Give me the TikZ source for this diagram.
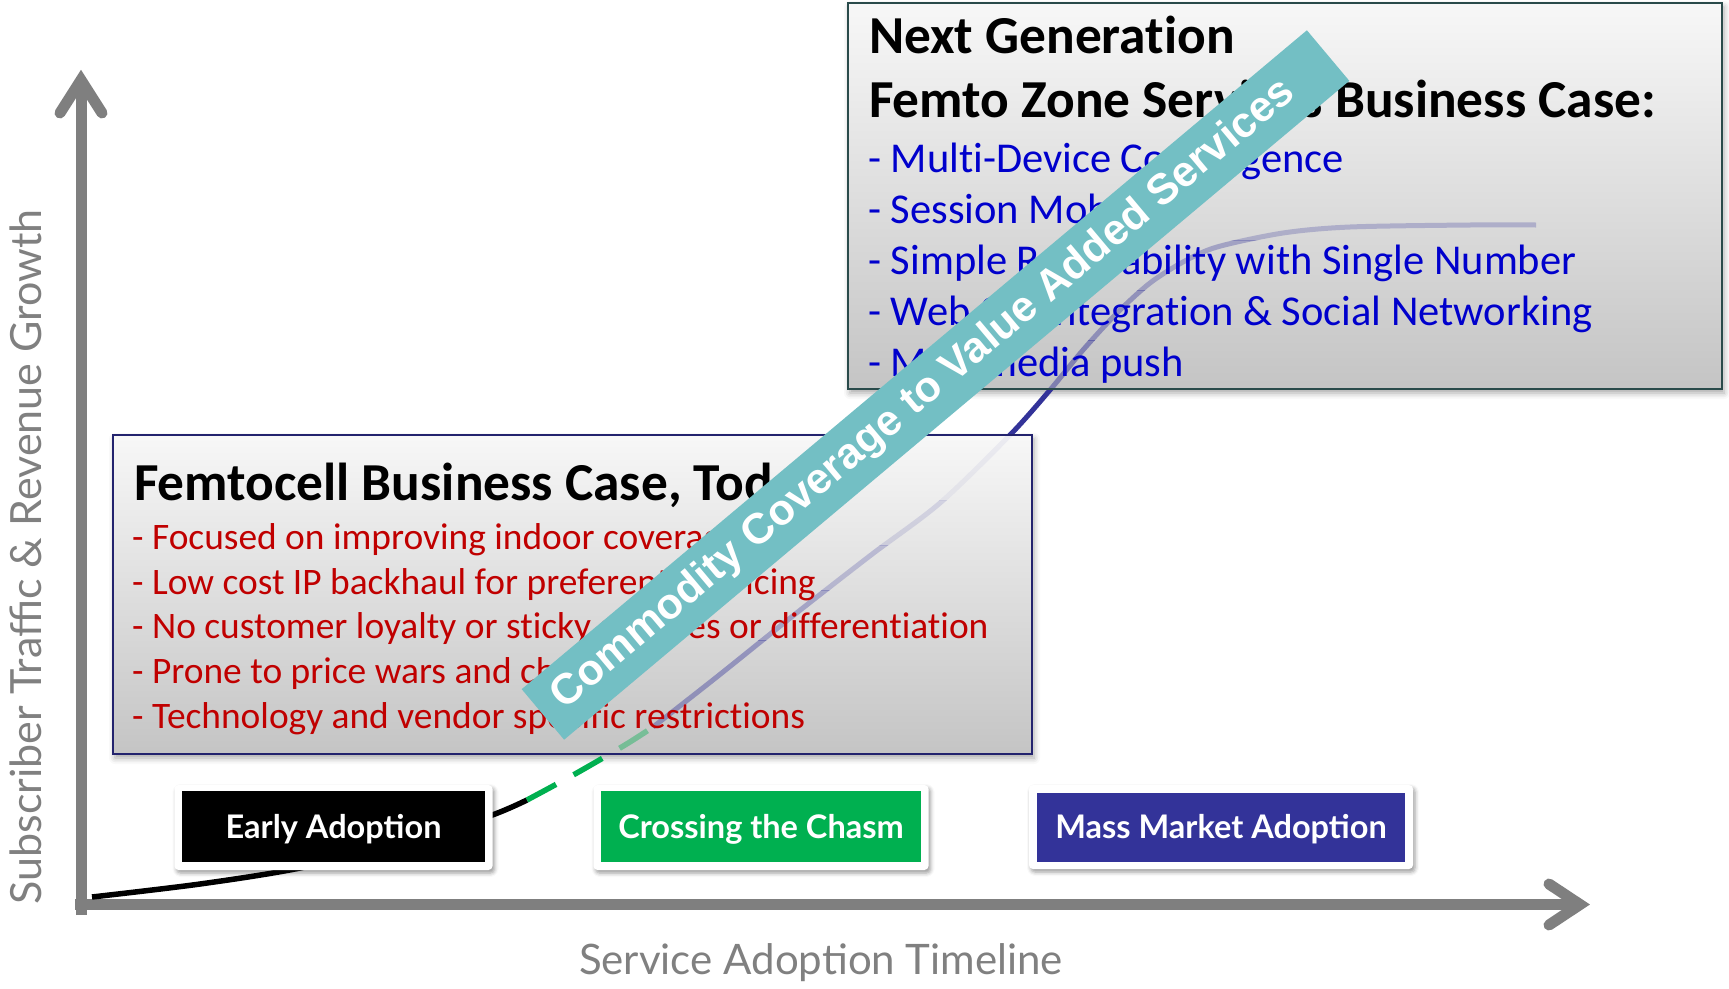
\documentclass[tikz,border=0pt]{standalone}
\usepackage{fontspec}
\setmainfont{Carlito}[Ligatures=NoCommon]
\newfontfamily\arialf{Liberation Sans}
\newfontfamily\latof{Lato}
\usetikzlibrary{shadows.blur}
\definecolor{axisgray}{HTML}{7F7F7F}
\definecolor{labgray}{HTML}{808080}
\definecolor{redtxt}{HTML}{C00000}
\definecolor{bluetxt}{HTML}{0000CC}
\definecolor{navyline}{HTML}{23236E}
\definecolor{slateline}{HTML}{2A4B4B}
\definecolor{teal}{HTML}{73BFC4}
\definecolor{chasm}{HTML}{00B050}
\definecolor{massblue}{HTML}{333399}
\begin{document}
\begin{tikzpicture}[x=1pt,y=-1pt,
  axisline/.style={draw=axisgray, line width=11pt},
  axishead/.style={draw=axisgray, line width=11pt, line cap=round, line join=miter},
  boxshadow/.style={fill=white, blur shadow={shadow xshift=2pt, shadow yshift=-4pt, shadow blur radius=6pt, shadow opacity=35}},
  boxshade/.style={top color=white!97!black, bottom color=black!23},
  titlefont/.style={anchor=base west, inner sep=0pt, font=\fontsize{53.4}{60}\selectfont\bfseries, text=black},
  redline/.style={anchor=base west, inner sep=0pt, font=\fontsize{37.4}{44}\selectfont, text=redtxt},
  blueline/.style={anchor=base west, inner sep=0pt, font=\fontsize{42.5}{50}\selectfont, text=bluetxt},
  phaseouter/.style={fill=white, rounded corners=4pt, inner sep=0pt, blur shadow={shadow xshift=2pt, shadow yshift=-3pt, shadow blur radius=4pt, shadow opacity=40}},
  phaseinner/.style={inner sep=0pt, text=white, text height=23pt, text depth=0pt, font=\latof\fontsize{32.5}{38}\selectfont\bfseries},
  axlabel/.style={inner sep=0pt, text=labgray},
  banner/.style={fill=teal, inner sep=0pt, minimum width=1025pt, minimum height=66pt, text=white, font=\arialf\fontsize{43}{50}\selectfont\bfseries},
  curveblack/.style={draw=black, line width=5.5pt},
  curvegreen/.style={draw=chasm, line width=5.5pt, dash pattern=on 33pt off 20pt},
  curveblue/.style={draw=massblue, line width=5pt}
]
\useasboundingbox (0,0) rectangle (1729,988);

% axes
\coordinate (yb) at (81,915);
\coordinate (yt) at (81,80);
\coordinate (yh1) at (60,113);
\coordinate (yh2) at (102,113);
\coordinate (xl) at (75,904.5);
\coordinate (xr) at (1580,904.5);
\coordinate (xh1) at (1549,884);
\coordinate (xh2) at (1549,925);
\draw[axisline] (yb) -- (yt);
\draw[axishead] (yh1) -- (yt) -- (yh2);
\draw[axisline] (xl) -- (xr);
\draw[axishead] (xh1) -- (xr) -- (xh2);

% box corners and shadows
\coordinate (lbA) at (113,435);
\coordinate (lbB) at (1032,754);
\coordinate (ubA) at (848,3);
\coordinate (ubB) at (1722,389);
\path[boxshadow] (lbA) rectangle (lbB);
\path[boxshadow] (ubA) rectangle (ubB);

% adoption curve
\def\blackcurve{plot[smooth] coordinates {(92,897) (200,884) (300,868) (420,840) (495,814) (527,800)}}
\def\greencurve{plot[smooth] coordinates {(527,800) (575,774) (625,745) (653,727)}}
\def\bluecurve{plot[smooth] coordinates {(653,727) (718,676) (794,615) (871,555) (940,503) (1010,435) (1050,390) (1083,350) (1117,313) (1150,283) (1183,262) (1217,247) (1283,233) (1350,227) (1470,225) (1536,225)}}
\draw[curveblack] \blackcurve;
\draw[curvegreen] \greencurve;
\draw[curveblue] \bluecurve;

% boxes (opaque), then the curve seen faintly through them
\fill[boxshade] (lbA) rectangle (lbB);
\fill[boxshade] (ubA) rectangle (ubB);
\foreach \ya/\yb/\op in {435/500/0.06, 500/545/0.14, 545/590/0.24, 590/640/0.33, 640/754/0.4} {
  \begin{scope}
    \clip (113,\ya) rectangle (1032,\yb);
    \draw[curvegreen, draw opacity=\op] \greencurve;
    \draw[curveblue, draw opacity=\op] \bluecurve;
  \end{scope}
}
\foreach \ya/\yb/\op in {3/240/0.26, 240/290/0.32, 290/340/0.4, 340/389/0.48} {
  \begin{scope}
    \clip (848,\ya) rectangle (1722,\yb);
    \draw[curveblue, draw opacity=\op] \bluecurve;
  \end{scope}
}
\draw[draw=navyline, line width=2pt] (lbA) rectangle (lbB);
\draw[draw=slateline, line width=2pt] (ubA) rectangle (ubB);

% lower box text
\node[titlefont] (lt) at (134,500) {Femtocell Business Case, Today};
\node[redline] (l1) at (132,549) {- Focused on improving indoor coverage};
\node[redline] (l2) at (132,594) {- Low cost IP backhaul for preferential pricing};
\node[redline] (l3) at (132,638) {- No customer loyalty or sticky services or differentiation};
\node[redline] (l4) at (132,683) {- Prone to price wars and churn};
\node[redline] (l5) at (132,728) {- Technology and vendor specific restrictions};

% upper box text
\node[titlefont] (ut1) at (869,53) {Next Generation};
\node[titlefont] (ut2) at (869,117) {Femto Zone Services Business Case:};
\node[blueline] (u1) at (868,172) {- Multi-Device Convergence};
\node[blueline] (u2) at (868,223) {- Session Mobility};
\node[blueline] (u3) at (868,274) {- Simple Reachability with Single Number};
\node[blueline] (u4) at (868,325) {- Web 2.0 Integration \& Social Networking};
\node[blueline] (u5) at (868,376) {- Multimedia push};

% phase boxes
\node[phaseouter, minimum width=318pt, minimum height=85pt] (eao) at (333.5,827.5) {};
\node[phaseinner, fill=black, minimum width=303pt, minimum height=71pt] (ea) at (333.5,826.5) {Early Adoption};
\node[phaseouter, minimum width=335pt, minimum height=85pt] (cco) at (761,827.5) {};
\node[phaseinner, fill=chasm, minimum width=320pt, minimum height=71pt] (cc) at (761,826.5) {Crossing the Chasm};
\node[phaseouter, minimum width=384pt, minimum height=84pt] (mmo) at (1221,827) {};
\node[phaseinner, fill=massblue, minimum width=368pt, minimum height=69pt] (mm) at (1221,827) {Mass Market Adoption};

% axis labels
\node[axlabel, rotate=90, font=\latof\fontsize{43}{48}\selectfont] (ylab) at (26,557) {Subscriber Traffic \& Revenue Growth};
\node[axlabel, font=\latof\fontsize{42}{48}\selectfont] (xlab) at (821,963) {Service Adoption Timeline};

% banner
\node[banner, rotate=40] (band) at (935.5,385) {\hspace*{-30pt}Commodity Coverage to Value Added Services};
\end{tikzpicture}
\end{document}
